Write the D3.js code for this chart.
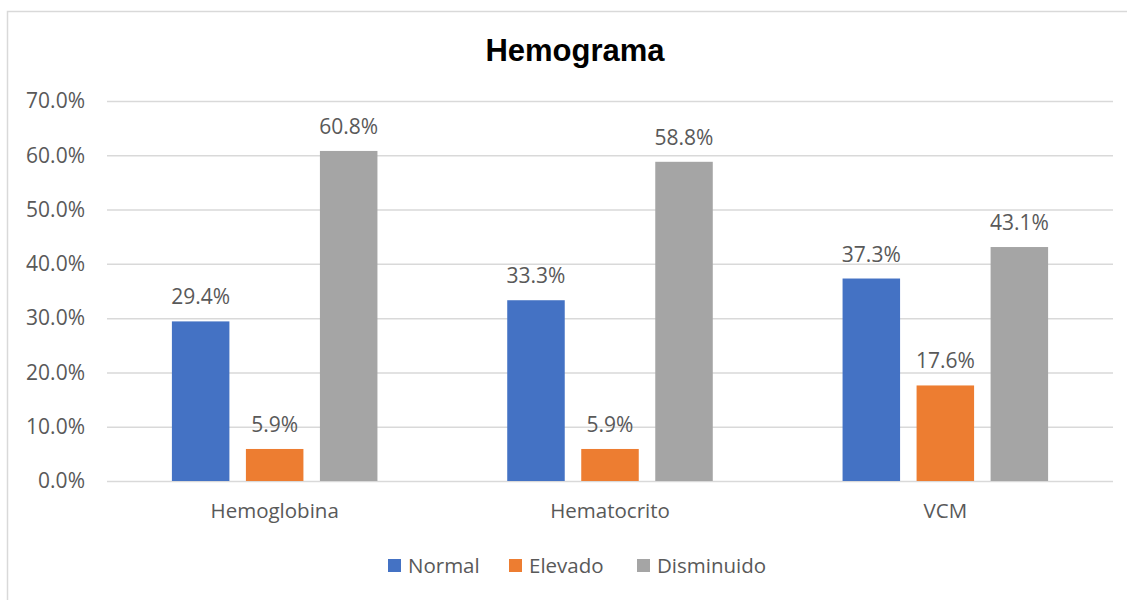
<!DOCTYPE html>
<html>
<head>
<meta charset="utf-8">
<script src="https://cdn.jsdelivr.net/npm/d3@7"></script>
<style>
  html, body { margin: 0; padding: 0; background: #fff; }
  svg { display: block; font-family: "Open Sans", "Noto Sans", sans-serif; }
</style>
</head>
<body>
<div id="chart"></div>
<script>
(function () {
  'use strict';

  // Data
  const categories = ['Hemoglobina', 'Hematocrito', 'VCM'];
  const seriesNames = ['Normal', 'Elevado', 'Disminuido'];
  const normal = [29.4, 33.3, 37.3];
  const elevado = [5.9, 5.9, 17.6];
  const disminuido = [60.8, 58.8, 43.1];
  const yTicks = [0, 10, 20, 30, 40, 50, 60, 70];

  const COLORS = ['#4472C4', '#ED7D31', '#A5A5A5'];
  const TEXT = '#595959';
  const GRID = '#D9D9D9';

  const W = 1127, H = 600;
  const margin = { top: 101, right: 14, bottom: 119, left: 107 };
  const w = W - margin.left - margin.right;
  const h = H - margin.top - margin.bottom;

  const svg = d3.select('#chart').append('svg')
    .attr('width', W).attr('height', H);

  // chart border (only left/top visible in the crop)
  svg.append('rect')
    .attr('x', 7.5).attr('y', 11.5)
    .attr('width', 1140).attr('height', 620)
    .attr('fill', 'none').attr('stroke', GRID).attr('stroke-width', 1.5);

  svg.append('text')
    .attr('x', 575).attr('y', 61)
    .attr('text-anchor', 'middle')
    .attr('font-family', '"Liberation Sans", Arial, sans-serif')
    .attr('font-size', 31).attr('font-weight', 700)
    .attr('fill', '#000')
    .text('Hemograma');

  const g = svg.append('g').attr('transform', `translate(${margin.left},${margin.top})`);

  const x0 = d3.scaleBand().domain(categories).range([0, w]).padding(0);
  const barW = x0.bandwidth() * 0.1715;
  const gap = barW * 0.287;
  const groupW = barW * 3 + gap * 2;
  const x1 = d3.scaleOrdinal().domain(seriesNames)
    .range(seriesNames.map((s, i) => (x0.bandwidth() - groupW) / 2 + i * (barW + gap)));

  const y = d3.scaleLinear().domain([0, 70]).range([h, 0]);

  // gridlines + y labels
  const yAxis = g.append('g').call(
    d3.axisLeft(y).tickValues(yTicks).tickSize(-w).tickPadding(22)
      .tickFormat(d => d.toFixed(1) + '%'));
  yAxis.select('.domain').remove();
  yAxis.selectAll('line').attr('stroke', GRID).attr('stroke-width', 1.5);
  yAxis.selectAll('text').attr('fill', TEXT).attr('font-size', 21)
    .attr('font-family', '"Open Sans", sans-serif');

  // x labels
  const xAxis = g.append('g').attr('transform', `translate(0,${h})`)
    .call(d3.axisBottom(x0).tickSize(0).tickPadding(22));
  xAxis.select('.domain').remove();
  xAxis.selectAll('text').attr('fill', TEXT).attr('font-size', 20.5)
    .attr('font-family', '"Open Sans", sans-serif');

  const series = [normal, elevado, disminuido];
  series.forEach((vals, si) => {
    const name = seriesNames[si];
    const grp = g.append('g');
    grp.selectAll('rect').data(vals).enter().append('rect')
      .attr('x', (d, i) => x0(categories[i]) + x1(name))
      .attr('y', d => y(d))
      .attr('width', barW)
      .attr('height', d => h - y(d))
      .attr('fill', COLORS[si]);
    grp.selectAll('text').data(vals).enter().append('text')
      .attr('x', (d, i) => x0(categories[i]) + x1(name) + barW / 2)
      .attr('y', d => y(d) - 17)
      .attr('text-anchor', 'middle')
      .attr('fill', TEXT).attr('font-size', 21)
      .text(d => d.toFixed(1) + '%');
  });

  // legend
  const legendX = [388, 509, 637];
  const legend = svg.append('g');
  seriesNames.forEach((name, i) => {
    legend.append('rect')
      .attr('x', legendX[i]).attr('y', 559)
      .attr('width', 13).attr('height', 13)
      .attr('fill', COLORS[i]);
    legend.append('text')
      .attr('x', legendX[i] + 20).attr('y', 573)
      .attr('fill', TEXT).attr('font-size', 20.5)
      .text(name);
  });
})();
</script>
</body>
</html>
